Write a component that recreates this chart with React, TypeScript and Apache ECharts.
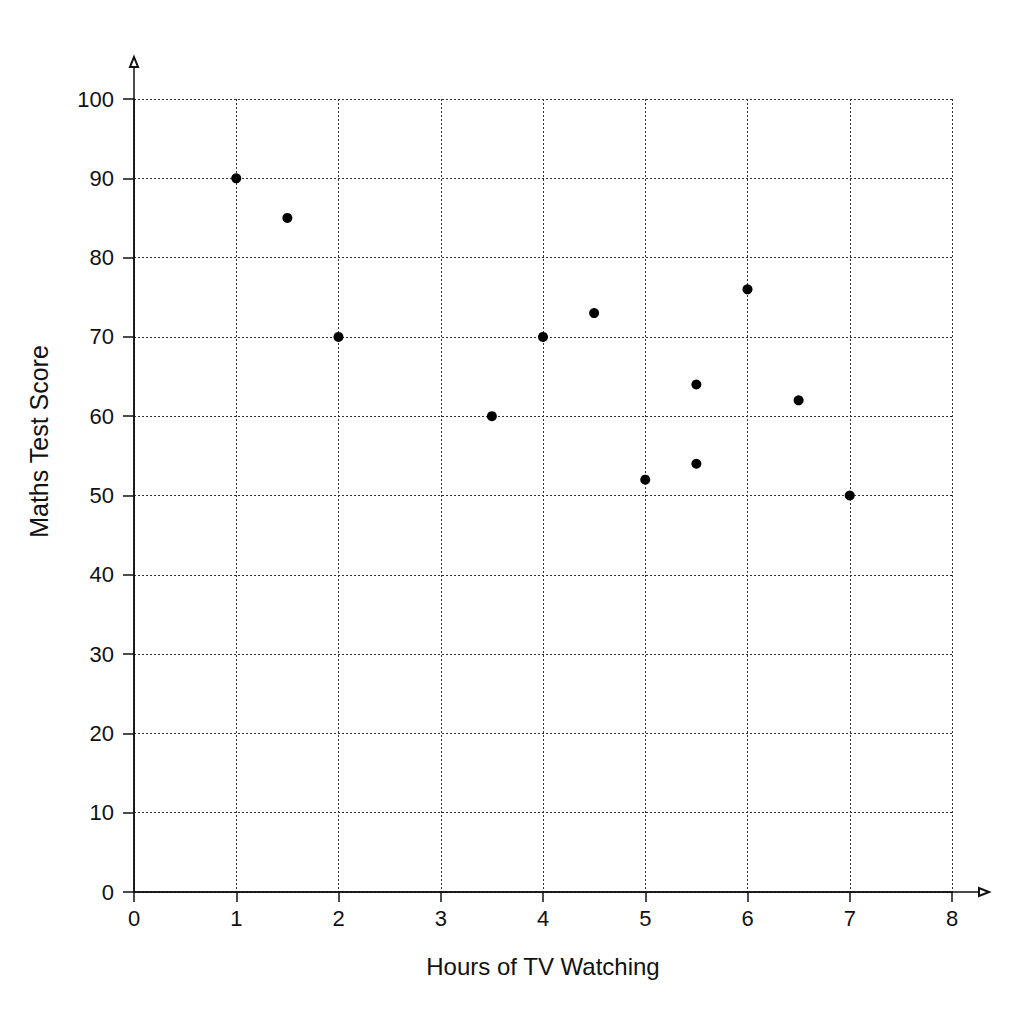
import React, { useEffect, useRef } from "react";
import * as echarts from "echarts";

// hours of TV watched vs. maths test score
const hours = [1, 1.5, 2, 3.5, 4, 4.5, 5, 5.5, 5.5, 6, 6.5, 7];
const scores = [90, 85, 70, 60, 70, 73, 52, 64, 54, 76, 62, 50];

const xTicks = [0, 8, 1];
const yTicks = [0, 100, 10];

const font = "'Liberation Sans', Arial, sans-serif";

const App: React.FC = () => {
  const chartRef = useRef<HTMLDivElement | null>(null);

  useEffect(() => {
    const chartDom = chartRef.current;
    if (!chartDom) return;

    const chart = echarts.init(chartDom, null, { renderer: "svg" });

    const axisLine = { show: true, lineStyle: { color: "#111", width: 1.5 } };
    const gridLine = {
      show: true,
      lineStyle: { color: "#333", width: 1, type: [2, 2] },
    };

    const option = {
      animation: false,
      backgroundColor: "#fff",
      grid: [
        { left: 134, right: 72, top: 99, bottom: 132 },
        // slightly larger grid, only used for the arrowed axis lines
        { left: 134, right: 40, top: 62, bottom: 132 },
      ],
      xAxis: [
        {
          type: "value",
          gridIndex: 0,
          min: xTicks[0],
          max: xTicks[1],
          interval: xTicks[2],
          name: "Hours of TV Watching",
          nameLocation: "middle",
          nameGap: 62,
          nameTextStyle: { fontFamily: font, fontSize: 24, color: "#111" },
          axisLine,
          axisTick: { show: true, length: 10, lineStyle: { color: "#111", width: 1.5 } },
          axisLabel: { fontFamily: font, fontSize: 22, color: "#111", margin: 15 },
          splitLine: gridLine,
        },
        {
          type: "value",
          gridIndex: 1,
          min: 0,
          max: 1,
          axisLine: {
            show: true,
            symbol: ["none", "emptyTriangle"],
            symbolSize: [8, 10],
            lineStyle: { color: "#111", width: 1.5 },
          },
          axisTick: { show: false },
          axisLabel: { show: false },
          splitLine: { show: false },
        },
      ],
      yAxis: [
        {
          type: "value",
          gridIndex: 0,
          min: yTicks[0],
          max: yTicks[1],
          interval: yTicks[2],
          name: "Maths Test Score",
          nameLocation: "middle",
          nameGap: 83,
          // the title sits a little above the middle of the axis
          nameTextStyle: {
            fontFamily: font,
            fontSize: 25,
            color: "#111",
            padding: [0, 0, 0, 108],
          },
          axisLine,
          axisTick: { show: true, length: 11, lineStyle: { color: "#111", width: 1.5 } },
          axisLabel: { fontFamily: font, fontSize: 22, color: "#111", margin: 20 },
          splitLine: gridLine,
        },
        {
          type: "value",
          gridIndex: 1,
          min: 0,
          max: 1,
          axisLine: {
            show: true,
            symbol: ["none", "emptyTriangle"],
            symbolSize: [8, 10],
            lineStyle: { color: "#111", width: 1.5 },
          },
          axisTick: { show: false },
          axisLabel: { show: false },
          splitLine: { show: false },
        },
      ],
      series: [
        {
          type: "scatter",
          xAxisIndex: 0,
          yAxisIndex: 0,
          symbolSize: 10,
          itemStyle: { color: "#000", opacity: 1 },
          data: hours.map((h, i) => [h, scores[i]]),
        },
      ],
    };

    chart.setOption(option);

    return () => {
      chart.dispose();
    };
  }, []);

  return (
    <div
      ref={chartRef}
      style={{ position: "absolute", left: 0, top: 0, width: "1024px", height: "1024px" }}
    ></div>
  );
};

export default App;
